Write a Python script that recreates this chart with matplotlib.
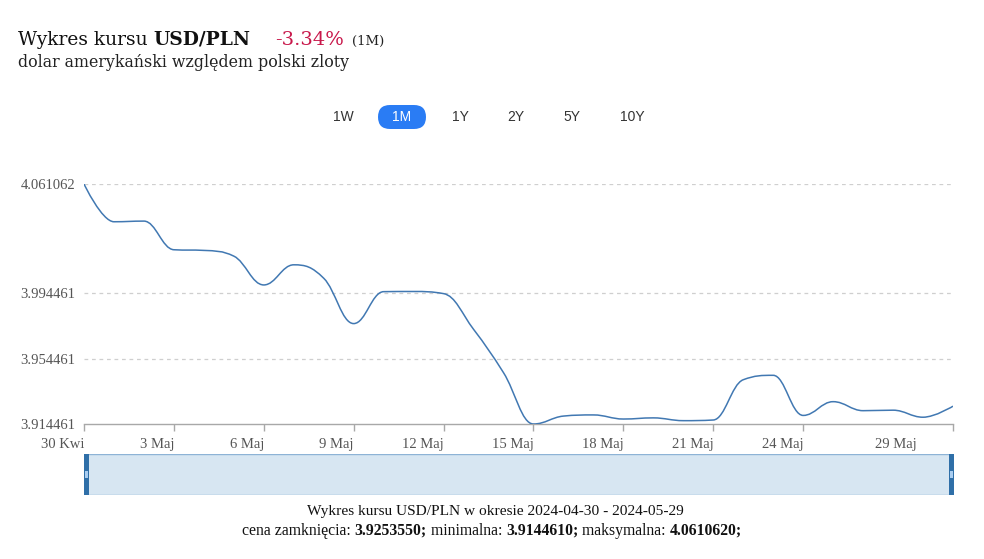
import numpy as np
import matplotlib
matplotlib.use('Agg')
import matplotlib.pyplot as plt
from matplotlib.path import Path
from matplotlib.patches import PathPatch, Rectangle, FancyBboxPatch

W, H = 984, 559
SERIF = ['Liberation Serif', 'DejaVu Serif']
WIDE_SERIF = ['DejaVu Serif']
SANS = ['Liberation Sans', 'DejaVu Sans']

# daily USD/PLN close, 2024-04-30 .. 2024-05-29 (calendar days)
days = np.arange(30)
rates = [4.061062, 4.0380, 4.0384, 4.0209, 4.0205, 4.0170, 3.9994, 4.0117, 4.0035, 3.9758,
         3.9953, 3.9954, 3.9941, 3.9723, 3.9458, 3.914461, 3.9193, 3.9200, 3.9175, 3.9182,
         3.9165, 3.9169, 3.9415, 3.9442, 3.9197, 3.9281, 3.9226, 3.9229, 3.9186, 3.925355]

ytick_vals = [3.914461, 3.954461, 3.994461, 4.061062]
ytick_labels = ['3.914461', '3.954461', '3.994461', '4.061062']
xtick_days = [0, 3, 6, 9, 12, 15, 18, 21, 24, 29]
xtick_labels = ['30 Kwi', '3 Maj', '6 Maj', '9 Maj', '12 Maj', '15 Maj', '18 Maj', '21 Maj', '24 Maj', '']
last_label_day = 27.77
last_label = '29 Maj'

ranges = ['1W', '1M', '1Y', '2Y', '5Y', '10Y']
range_x = [343, 402, 460, 516, 572, 632]
active_range = '1M'

change_txt = '-3.34%'
close_val, min_val, max_val = '3.9253550', '3.9144610', '4.0610620'
period = ('2024-04-30', '2024-05-29')


def spline_path(x, y, smoothing=1.5):
    # bezier control points the way Highcharts' spline series builds them
    n = len(x)
    left = [None] * n
    right = [None] * n
    d = smoothing + 1
    for i in range(n):
        if i == 0 or i == n - 1:
            left[i] = right[i] = (x[i], y[i])
            continue
        lx = (smoothing * x[i] + x[i - 1]) / d
        ly = (smoothing * y[i] + y[i - 1]) / d
        rx = (smoothing * x[i] + x[i + 1]) / d
        ry = (smoothing * y[i] + y[i + 1]) / d
        if rx != lx:
            corr = (ry - ly) * (rx - x[i]) / (rx - lx) + y[i] - ry
            ly += corr
            ry += corr
        if ly > y[i - 1] and ly > y[i]:
            ly = max(y[i - 1], y[i]); ry = 2 * y[i] - ly
        elif ly < y[i - 1] and ly < y[i]:
            ly = min(y[i - 1], y[i]); ry = 2 * y[i] - ly
        if ry > y[i + 1] and ry > y[i]:
            ry = max(y[i + 1], y[i]); ly = 2 * y[i] - ry
        elif ry < y[i + 1] and ry < y[i]:
            ry = min(y[i + 1], y[i]); ly = 2 * y[i] - ry
        left[i] = (lx, ly)
        right[i] = (rx, ry)
    verts = [(x[0], y[0])]
    codes = [Path.MOVETO]
    for i in range(1, n):
        verts += [right[i - 1], left[i], (x[i], y[i])]
        codes += [Path.CURVE4] * 3
    return Path(verts, codes)


fig = plt.figure(figsize=(W / 100, H / 100), dpi=100)
renderer = fig.canvas.get_renderer()


def px(x, y):
    return x / W, 1 - y / H


def text_run(x, y, parts, center=False, **kw):
    # lay out text pieces side by side on one baseline
    texts = [fig.text(0, 1 - y / H, s.replace(' ', '\u00a0'), va='baseline', **kw, **p)
             for s, p in parts]
    widths = [t.get_window_extent(renderer).width for t in texts]
    x0 = x - sum(widths) / 2 if center else x
    for t, w in zip(texts, widths):
        t.set_x(x0 / W)
        x0 += w
    return texts


# ---- main chart
ax = fig.add_axes([84 / W, 1 - 424 / H, (953 - 84) / W, (424 - 184) / H])
ax.add_patch(PathPatch(spline_path(days.astype(float), np.array(rates)),
                       facecolor='none', edgecolor='#4178b2', lw=1.1, zorder=3))
ax.set_xlim(0, 29)
ax.set_ylim(ytick_vals[0], ytick_vals[-1])
for s in ['top', 'right', 'left']:
    ax.spines[s].set_visible(False)
ax.spines['bottom'].set_color('#a8a8a8')
ax.spines['bottom'].set_linewidth(1.0)
for v in ytick_vals[1:]:
    ax.axhline(v, color='#cfcfcf', lw=0.9, ls=(0, (3, 3)), zorder=1)
ax.set_yticks(ytick_vals)
ax.set_yticklabels(ytick_labels, family=SERIF, fontsize=10.5, color='#555555')
ax.tick_params(axis='y', length=0, pad=6)
ax.set_xticks(xtick_days)
ax.set_xticklabels(xtick_labels, family=SERIF, fontsize=10.5, color='#555555', ha='right')
ax.tick_params(axis='x', length=5, width=1, color='#a8a8a8', pad=5)
ax.set_xticks([last_label_day], minor=True)
ax.set_xticklabels([last_label], minor=True, family=SERIF, fontsize=10.5,
                   color='#555555', ha='right')
ax.tick_params(axis='x', which='minor', length=0, pad=10)

# ---- navigator strip
nav = fig.add_axes([84 / W, 1 - 495 / H, (954 - 84) / W, (495 - 454) / H])
nav.set_xlim(0, 1)
nav.set_ylim(0, 1)
nav.axis('off')
nav.add_patch(Rectangle((0, 0), 1, 1, facecolor='#d7e6f2', edgecolor='#8db3d6', lw=1.0))
hw = 5 / (954 - 84)
for hx in (0, 1 - hw):
    nav.add_patch(Rectangle((hx, 0), hw, 1, facecolor='#2f6fa8', edgecolor='none'))
    nav.add_patch(Rectangle((hx + hw * 0.2, 0.42), hw * 0.6, 0.16, facecolor='#a9cdf0',
                            edgecolor='none'))

# ---- header
text_run(18, 45, [('Wykres kursu ', {}), ('USD/PLN', {'weight': 'bold'})],
         family=WIDE_SERIF, fontsize=13.4, color='#111111')
fig.text(*px(275, 45), change_txt, family=WIDE_SERIF, fontsize=14, color='#c8174a',
         va='baseline')
fig.text(*px(352, 45), '(1M)', family=WIDE_SERIF, fontsize=9.5, color='#222222',
         va='baseline')
fig.text(*px(18, 67), 'dolar amerykański względem polski zloty', family=WIDE_SERIF,
         fontsize=11.4, color='#222222', va='baseline')

# range selector buttons
for lab, x in zip(ranges, range_x):
    if lab == active_range:
        pill = FancyBboxPatch(px(x - 24, 129), 48 / W, 24 / H,
                              boxstyle='round,pad=0,rounding_size=%f' % (12 / W),
                              mutation_aspect=W / H, transform=fig.transFigure,
                              facecolor='#2a7cf4', edgecolor='none')
        fig.patches.append(pill)
        color = 'white'
    else:
        color = '#333333'
    fig.text(*px(x, 117), lab, family=SANS, fontsize=10, color=color,
             ha='center', va='center')

# ---- footer
text_run(495, 515, [(f'Wykres kursu USD/PLN w okresie {period[0]} - {period[1]}', {})],
         center=True, family=SERIF, fontsize=11.1, color='#111111')
text_run(492, 535, [('cena zamknięcia: ', {}), (close_val + ';', {'weight': 'bold'}),
                    (' minimalna: ', {}), (min_val + ';', {'weight': 'bold'}),
                    (' maksymalna: ', {}), (max_val + ';', {'weight': 'bold'})],
         center=True, family=SERIF, fontsize=11.3, color='#111111')

fig.savefig('out.png', dpi=100)
